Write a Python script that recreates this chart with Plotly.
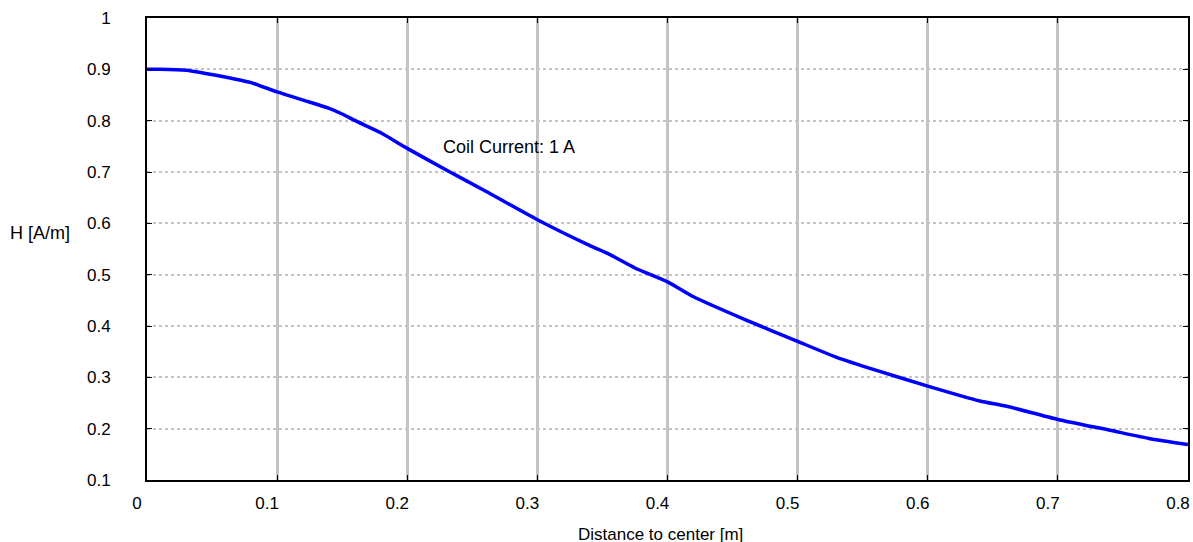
import plotly.graph_objects as go

distance = [0, 0.01, 0.03, 0.045, 0.06, 0.08, 0.1, 0.12, 0.14, 0.15, 0.16, 0.18, 0.2,
            0.23, 0.26, 0.3, 0.34, 0.355, 0.375, 0.4, 0.42, 0.46, 0.5, 0.53, 0.56,
            0.6, 0.64, 0.66, 0.7, 0.74, 0.77, 0.8]
field_h = [0.900, 0.900, 0.898, 0.892, 0.885, 0.874, 0.856, 0.840, 0.824, 0.813, 0.800,
           0.776, 0.746, 0.704, 0.663, 0.607, 0.557, 0.540, 0.513, 0.486, 0.457, 0.412,
           0.370, 0.339, 0.314, 0.283, 0.254, 0.244, 0.218, 0.197, 0.181, 0.169]

x_title = "Distance to center [m]"
y_title = "H [A/m]"
note_text = "Coil Current: 1 A"
note_pos = (0.2263, 0.749)

FONT = "Liberation Sans, Arial, sans-serif"

fig = go.Figure()
fig.add_trace(go.Scatter(x=distance, y=field_h, mode="lines",
                         line=dict(color="#0000ff", width=3.5, shape="spline",
                                   smoothing=0.6),
                         showlegend=False))

fig.update_layout(
    width=1193, height=542,
    margin=dict(l=147, r=5, t=18, b=62, autoexpand=False),
    paper_bgcolor="white", plot_bgcolor="white",
    font=dict(family=FONT, size=17, color="black"),
    xaxis=dict(range=[0, 0.8], dtick=0.1, tick0=0, ticks="inside", ticklen=5,
               tickcolor="black", showline=True, linecolor="black", linewidth=2,
               mirror="ticks", showgrid=True, gridcolor="#c4c4c4", gridwidth=3,
               zeroline=False, ticklabelstandoff=7, ticklabelshift=-10,
               automargin=False, tickfont=dict(size=17)),
    yaxis=dict(range=[0.1, 1], dtick=0.1, tick0=0.1, ticks="inside", ticklen=5,
               tickcolor="black", showline=True, linecolor="black", linewidth=2,
               mirror="ticks", showgrid=True, gridcolor="#c4c4c4", gridwidth=2,
               griddash="dot", zeroline=False, ticklabelstandoff=31,
               automargin=False, tickfont=dict(size=17)),
    annotations=[
        dict(x=note_pos[0], y=note_pos[1], xref="x", yref="y", text=note_text,
             showarrow=False, xanchor="left", yanchor="middle", font=dict(size=18)),
        dict(x=-0.1028, y=0.535, xref="paper", yref="paper", text=y_title,
             showarrow=False, xanchor="center", yanchor="middle", font=dict(size=18)),
        dict(x=0.493, y=-0.117, xref="paper", yref="paper", text=x_title,
             showarrow=False, xanchor="center", yanchor="middle", font=dict(size=17)),
    ],
)

fig.write_html("out.html", config={"displayModeBar": False},
               post_script="document.body.style.margin='0';document.body.style.overflow='hidden';")
